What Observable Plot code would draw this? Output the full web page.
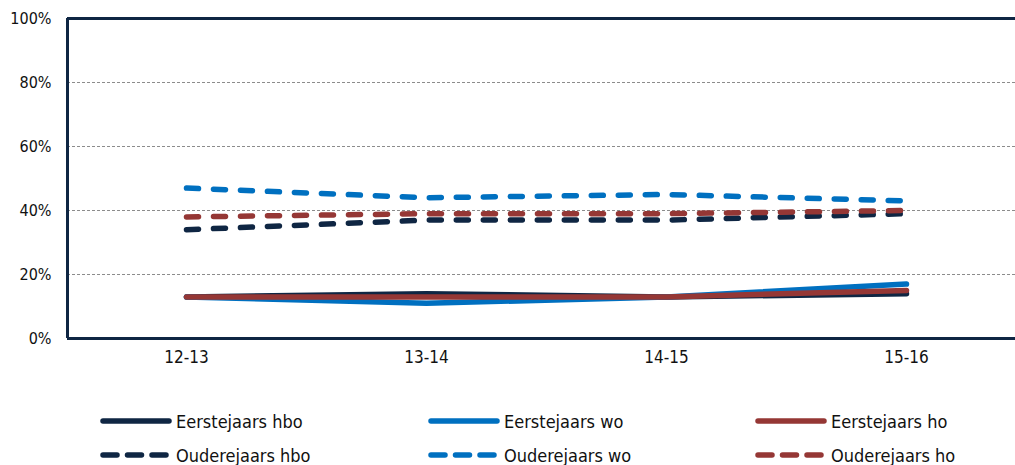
<!DOCTYPE html>
<html>
<head>
<meta charset="utf-8">
<script src="https://cdn.jsdelivr.net/npm/d3@7"></script>
<script src="https://cdn.jsdelivr.net/npm/@observablehq/plot@0.6"></script>
<style>
  body { margin: 0; background: #fff; font-family: "DejaVu Sans Condensed", "DejaVu Sans", sans-serif; }
  #wrap { position: relative; width: 1015px; height: 465px; overflow: hidden; }
  #chart { position: absolute; left: 0; top: 0; }
  .leg { position: absolute; display: flex; align-items: center; font-size: 18px; color: #111; white-space: nowrap; }
  .leg svg { margin-right: 4px; }
</style>
</head>
<body>
<div id="wrap"><div id="chart"></div><div id="legend"></div></div>
<script>
const years = ["12-13", "13-14", "14-15", "15-16"];
const seriesNames = ["Eerstejaars hbo", "Eerstejaars wo", "Eerstejaars ho", "Ouderejaars hbo", "Ouderejaars wo", "Ouderejaars ho"];
const eerstejaarsHbo = [13, 14, 13, 14];
const eerstejaarsWo = [13, 11, 13, 17];
const eerstejaarsHo = [13, 13, 13, 15];
const ouderejaarsHbo = [34, 37, 37, 39];
const ouderejaarsWo = [47, 44, 45, 43];
const ouderejaarsHo = [38, 39, 39, 40];
const yTicks = [0, 20, 40, 60, 80, 100];

const colors = ["#0f2643", "#0070c0", "#953735", "#0f2643", "#0070c0", "#953735"];
const dashed = [false, false, false, true, true, true];
const values = [eerstejaarsHbo, eerstejaarsWo, eerstejaarsHo, ouderejaarsHbo, ouderejaarsWo, ouderejaarsHo];

const rows = [];
seriesNames.forEach((s, i) => values[i].forEach((v, j) => rows.push({series: s, year: years[j], value: v})));

const marks = [
  Plot.ruleY([20, 40, 60, 80], {stroke: "#8c8c8c", strokeWidth: 1, strokeDasharray: "3,2"}),
];
[0, 1, 2, 3, 4, 5].forEach(i => {
  marks.push(Plot.line(rows.filter(d => d.series === seriesNames[i]), {
    x: "year", y: "value", stroke: colors[i], strokeWidth: 5.5,
    strokeLinecap: "round", strokeLinejoin: "round",
    strokeDasharray: dashed[i] ? "12,15" : null
  }));
});
marks.push(Plot.ruleY([0, 100], {stroke: "#0f2643", strokeWidth: 3}));
// left axis line: at the plot's left edge (first category shifted back to the frame edge)
marks.push(Plot.ruleX([years[0]], {y1: 0, y2: 100, dx: 67 - 186, stroke: "#0f2643", strokeWidth: 3}));

const chart = Plot.plot({
  width: 1015,
  height: 370,
  marginTop: 18,
  marginBottom: 32,
  marginLeft: 67,
  marginRight: 0,
  style: {fontFamily: "'DejaVu Sans Condensed', 'DejaVu Sans', sans-serif", fontSize: "16px", color: "#111", background: "transparent"},
  x: {type: "point", domain: years, range: [186, 906], padding: 0, label: null},
  y: {domain: [0, 100], label: null},
  marks: [
    ...marks,
    Plot.axisX({tickSize: 0, tickPadding: 12, fontSize: 17, label: null}),
    Plot.axisY({ticks: yTicks, tickFormat: d => d + "%", tickSize: 0, tickPadding: 16, fontSize: 16, label: null})
  ]
});
document.getElementById("chart").appendChild(chart);

// Legend
const legPos = [
  [100, 421], [428, 421], [755, 421],
  [100, 455], [428, 455], [755, 455]
];
const legend = document.getElementById("legend");
seriesNames.forEach((s, i) => {
  const div = document.createElement("div");
  div.className = "leg";
  div.style.left = legPos[i][0] + "px";
  div.style.top = (legPos[i][1] - 12) + "px";
  div.style.height = "24px";
  const ns = "http://www.w3.org/2000/svg";
  const sv = document.createElementNS(ns, "svg");
  sv.setAttribute("width", 72); sv.setAttribute("height", 12);
  const ln = document.createElementNS(ns, "line");
  ln.setAttribute("x1", 3); ln.setAttribute("x2", 69);
  ln.setAttribute("y1", 6); ln.setAttribute("y2", 6);
  ln.setAttribute("stroke", colors[i]);
  ln.setAttribute("stroke-width", 5.5);
  ln.setAttribute("stroke-linecap", "round");
  if (dashed[i]) ln.setAttribute("stroke-dasharray", "14,10.5");
  sv.appendChild(ln);
  div.appendChild(sv);
  const t = document.createElement("span");
  t.textContent = s;
  div.appendChild(t);
  legend.appendChild(div);
});
</script>
</body>
</html>
